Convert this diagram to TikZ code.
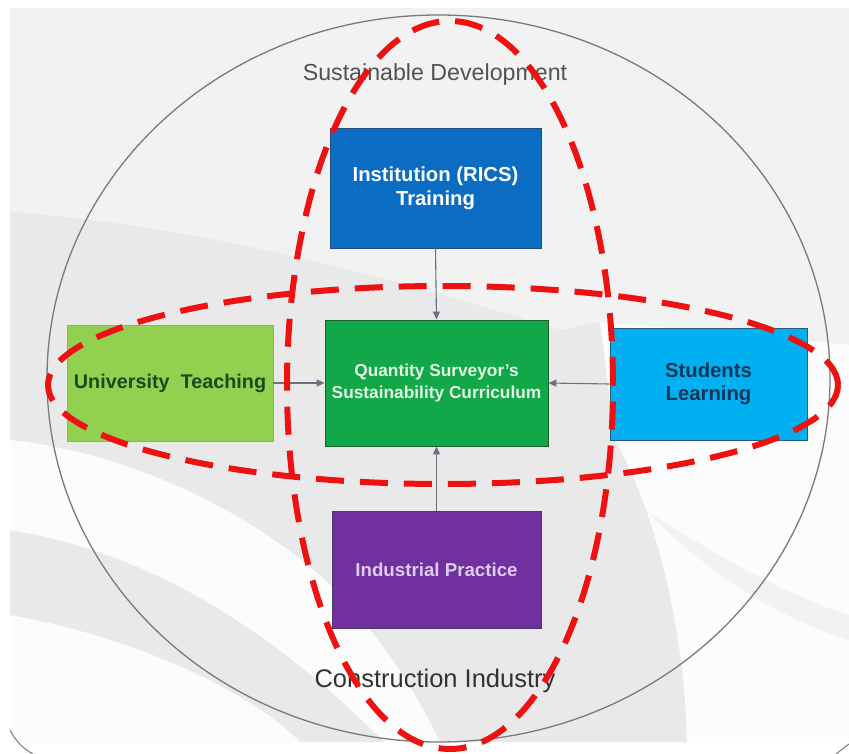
\documentclass[tikz,border=0pt]{standalone}
\usepackage{fontspec}
\setmainfont{Liberation Sans}
\usetikzlibrary{arrows.meta}
\definecolor{bgbase}{HTML}{F2F2F2}
\definecolor{bggray}{HTML}{E9E9E9}
\definecolor{bgwhite}{HTML}{FCFCFC}
\definecolor{ringgray}{HTML}{7A7A7A}
\definecolor{arrowgray}{HTML}{6E6E7E}
\definecolor{dashred}{HTML}{EE1111}
\definecolor{instblue}{HTML}{0A6CC2}
\definecolor{instborder}{HTML}{1F4F7F}
\definecolor{qsgreen}{HTML}{12A84A}
\definecolor{qsborder}{HTML}{1A6030}
\definecolor{qstext}{HTML}{E4F8E4}
\definecolor{unigreen}{HTML}{92D050}
\definecolor{uniborder}{HTML}{7CBF4A}
\definecolor{unitext}{HTML}{1A4A1A}
\definecolor{stucyan}{HTML}{00B0F0}
\definecolor{stuborder}{HTML}{2A5A7A}
\definecolor{stutext}{HTML}{10375A}
\definecolor{indpurple}{HTML}{7030A0}
\definecolor{indborder}{HTML}{4A3A6A}
\definecolor{indtext}{HTML}{DCCCF0}
\begin{document}
\begin{tikzpicture}[x=1pt,y=-1pt,
  box/.style={draw, line width=0.9pt, align=center, inner sep=2pt, font=\bfseries},
  flow/.style={draw=arrowgray, line width=1.1pt, -{Triangle[length=8pt,width=7pt]}},
  ring/.style={draw=ringgray, line width=1.3pt},
  reddash/.style={draw=dashred, line width=6pt, dash pattern=on 28pt off 16pt},
  label/.style={inner sep=0pt, anchor=center}]
\useasboundingbox (0,0) rectangle (849,754);
% background
\fill[white] (0,0) rectangle (849,754);
\fill[bgbase] (10,8) rectangle (849,742);
\fill[bggray] (10,212) .. controls (200,225) and (400,280) .. (560,330) -- (600,322)
  .. controls (605,360) and (610,400) .. (615,440)
  .. controls (660,520) and (685,640) .. (687,742) -- (10,742) -- cycle;
\fill[bgwhite] (600,322) .. controls (700,330) and (800,340) .. (849,345) -- (849,742) -- (687,742)
  .. controls (685,640) and (660,520) .. (615,440)
  .. controls (610,400) and (605,360) .. (600,322) -- cycle;
\fill[bgwhite] (10,440) .. controls (150,455) and (280,530) .. (345,600) .. controls (390,650) and (420,700) .. (440,742) -- (385,742) .. controls (330,690) and (200,560) .. (10,530) -- cycle;
\fill[bgwhite] (10,615) .. controls (150,640) and (260,700) .. (300,742) -- (10,742) -- cycle;
\fill[bgbase] (645,510) .. controls (730,565) and (800,600) .. (849,615) -- (849,640) .. controls (790,622) and (720,585) .. (645,510) -- cycle;
% corner arcs
\draw[ringgray, line width=1pt] (10,730) .. controls (16,742) and (24,749) .. (33,754);
\draw[ringgray, line width=1pt] (836,754) .. controls (841,750) and (845,747) .. (849,744);
% big ring
\coordinate (ringc) at (438.5,378.5);
\draw[ring] (ringc) ellipse [x radius=391.5pt, y radius=363.5pt];
% labels
\node[label, text=black!68, font=\fontsize{23.2}{27}\selectfont] (sd) at (435,75) {Sustainable Development};
\node[label, text=black!80, font=\fontsize{25.5}{30}\selectfont] (ci) at (435,681) {Construction Industry};
% boxes
\node[box, fill=instblue, draw=instborder, text=white, minimum width=211pt, minimum height=120pt, font=\bfseries\fontsize{20.3}{24}\selectfont] (inst) at (435.5,188) {Institution (RICS)\\Training};
\node[box, fill=qsgreen, draw=qsborder, text=qstext, minimum width=223pt, minimum height=126pt, font=\bfseries\fontsize{17.3}{21.5}\selectfont] (qs) at (436.5,383) {Quantity Surveyor's\\Sustainability Curriculum};
\node[box, fill=unigreen, draw=uniborder, text=unitext, minimum width=206pt, minimum height=116pt, font=\bfseries\fontsize{19.8}{23}\selectfont] (uni) at (170,383) {University\ \ Teaching};
\node[box, fill=stucyan, draw=stuborder, text=stutext, minimum width=197pt, minimum height=112pt, font=\bfseries\fontsize{20.3}{23}\selectfont] (stu) at (708.5,384) {Students\\Learning};
\node[box, fill=indpurple, draw=indborder, text=indtext, minimum width=209pt, minimum height=117pt, font=\bfseries\fontsize{18.7}{22}\selectfont] (ind) at (436.5,569.5) {Industrial Practice};
% connectors
\draw[flow] (inst.south) -- (qs.north);
\draw[flow] (uni.east) -- (qs.west);
\draw[flow] (stu.west) -- (qs.east);
\draw[flow] (ind.north) -- (qs.south);
% red dashed ellipses
\coordinate (vc) at (450,385);
\coordinate (hc) at (443,385);
\draw[reddash] (vc) ellipse [x radius=163pt, y radius=364pt];
\draw[reddash] (hc) ellipse [x radius=395pt, y radius=99pt];
\end{tikzpicture}
\end{document}
